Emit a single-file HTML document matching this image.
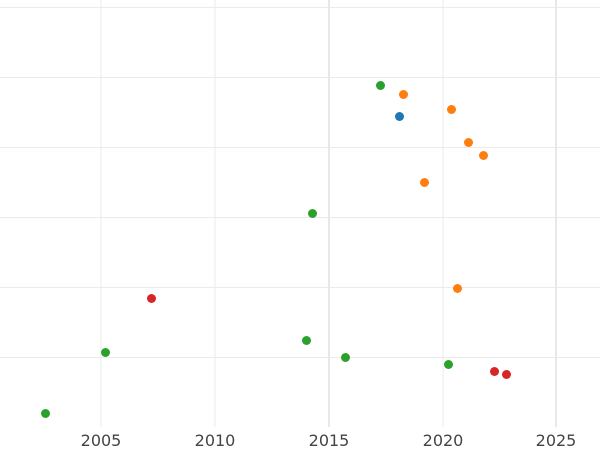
<!DOCTYPE html>
<html><head><style>body{margin:0;background:#fff}svg{display:block}</style></head><body>
<svg width="600" height="450" xmlns="http://www.w3.org/2000/svg">
<g stroke="#ebebeb" stroke-width="1">
<line x1="0" x2="600" y1="7.5" y2="7.5"/><line x1="0" x2="600" y1="77.5" y2="77.5"/>
<line x1="0" x2="600" y1="147.5" y2="147.5"/><line x1="0" x2="600" y1="217.5" y2="217.5"/>
<line x1="0" x2="600" y1="287.5" y2="287.5"/><line x1="0" x2="600" y1="357.5" y2="357.5"/>
<line x1="101" x2="101" y1="0" y2="427"/><line x1="215" x2="215" y1="0" y2="427"/>
<line x1="443" x2="443" y1="0" y2="427"/>
</g>
<g stroke="#e8e8e8" stroke-width="2">
<line x1="329" x2="329" y1="0" y2="427"/><line x1="556" x2="556" y1="0" y2="427"/>
</g>
<g font-family="DejaVu Sans, sans-serif" font-size="16" fill="#444" text-anchor="middle">
<text x="101" y="446">2005</text><text x="215" y="446">2010</text><text x="329" y="446">2015</text><text x="443" y="446">2020</text><text x="556" y="446">2025</text>
</g>
<g transform="translate(0.5,0.5)">
<g fill="#2ca02c"><circle cx="45" cy="413" r="4.5"/><circle cx="105" cy="352" r="4.5"/><circle cx="306" cy="340" r="4.5"/><circle cx="312" cy="213" r="4.5"/><circle cx="345" cy="357" r="4.5"/><circle cx="380" cy="85" r="4.5"/><circle cx="448" cy="364" r="4.5"/></g>
<g fill="#ff7f0e"><circle cx="403" cy="94" r="4.5"/><circle cx="451" cy="109" r="4.5"/><circle cx="468" cy="142" r="4.5"/><circle cx="483" cy="155" r="4.5"/><circle cx="424" cy="182" r="4.5"/><circle cx="457" cy="288" r="4.5"/></g>
<circle cx="399" cy="116" r="4.5" fill="#1f77b4"/>
<g fill="#d62728"><circle cx="151" cy="298" r="4.5"/><circle cx="494" cy="371" r="4.5"/><circle cx="506" cy="374" r="4.5"/></g>
</g>
</svg>
</body></html>
